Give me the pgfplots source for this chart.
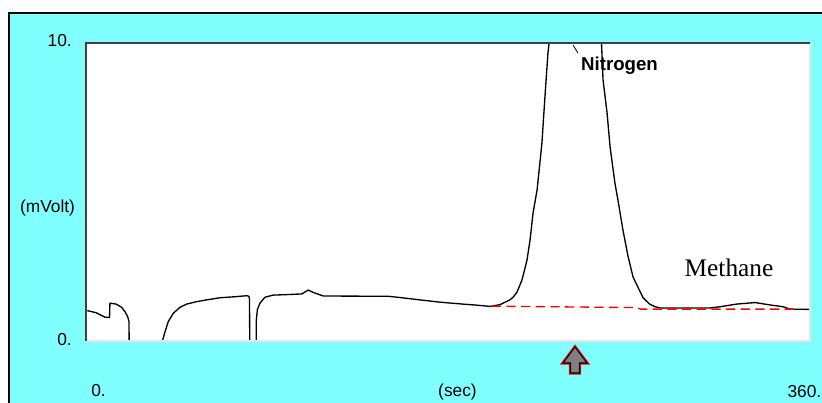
\documentclass[border=0pt]{standalone}
\usepackage{pgfplots}
\pgfplotsset{compat=1.18}
\usepackage{fontspec}
\setmainfont{Liberation Sans}
\newfontfamily\timesf{Liberation Serif}
\definecolor{panel}{RGB}{128,255,255}
\definecolor{arrowgray}{RGB}{128,128,128}
\begin{document}
\begin{tikzpicture}[x=0.75pt,y=-0.75pt]
\useasboundingbox (0,0) rectangle (822,403);
\fill[white] (0,0) rectangle (822,403);
\fill[panel] (9,13) rectangle (830,410);
\draw[line width=1.2pt,black] (9,420) -- (9,13) -- (830,13);
\begin{axis}[
  at={(64.5pt,-255.75pt)}, anchor=south west,
  scale only axis, width=543pt, height=223.5pt,
  xmin=0,xmax=360,ymin=0,ymax=10,
  xtick=\empty, ytick=\empty,
  axis line style={draw=none},
  axis background/.style={fill=white},
  clip mode=individual,
]
\addplot[black, line width=1pt, line join=round] table {
0.65 1.02
5 0.95
9.45 0.80
11.7 0.79
11.9 1.27
14.9 1.24
17.75 1.13
19.4 0.98
20.7 0.82
21.4 0.65
21.5 -1
37.8 -1
38.1 0.03
39.3 0.31
40.9 0.65
43.4 0.93
46.7 1.13
50.1 1.24
55.0 1.32
60.0 1.38
66.6 1.45
74.9 1.49
79.9 1.52
81.0 1.50
81.3 1.40
81.5 -1
84.5 -1
84.7 0.70
85.2 1.05
86.5 1.27
89.0 1.47
93.1 1.54
101 1.56
107.3 1.58
110.5 1.71
113.0 1.63
118.0 1.51
150.3 1.50
156 1.46
161 1.42
166 1.38
170 1.35
175 1.31
180 1.28
187 1.24
193 1.21
198 1.18
201 1.16
203.4 1.19
205.9 1.22
208 1.29
210.8 1.38
212.5 1.48
214.3 1.64
216.8 2.05
219.3 2.72
220.8 3.39
222.3 4.30
224.3 5.07
226.7 6.64
228.2 8.19
229.7 9.66
230.6 10.2
240 13
250 13
256.2 10.2
257.1 8.76
259.1 7.65
260.6 6.51
263.0 5.30
264.5 4.73
267.0 3.72
269.5 2.85
272.0 2.15
274.5 1.80
277.0 1.45
280.4 1.23
283 1.15
285.4 1.11
310.3 1.11
315.3 1.15
323.7 1.24
332.7 1.29
340.1 1.21
346.6 1.15
350.1 1.07
360 1.06
};
\addplot[red, line width=1pt, dash pattern=on 7pt off 4pt] table {
201.7 1.17
274.0 1.12
275.7 1.07
353.4 1.07
};
\draw[gray!20, line width=1.5pt] (rel axis cs:0,0) -- (rel axis cs:1,0) -- (rel axis cs:1,1);
\draw[black!75, line width=2pt] (rel axis cs:0,0) -- (rel axis cs:0,1) -- (rel axis cs:1,1);
\draw[black, line width=0.6pt] (axis cs:242.2,9.93) -- (axis cs:244.6,9.66);
\end{axis}
\begin{scope}[every node/.style={inner sep=0pt, font=\fontsize{13}{15}\selectfont}]
\node[anchor=base east] at (72,46.7) {10.};
\node[anchor=base east] at (72,345) {0.};
\node[anchor=base] at (47.5,212.3) {(mVolt)};
\node[anchor=base west] at (91,396.7) {0.};
\node[anchor=base] at (457.5,396.7) {(sec)};
\node[anchor=base east] at (821.5,397) {360.};
\node[anchor=base, font=\bfseries\fontsize{14}{16}\selectfont] at (619.5,71) {Nitrogen};
\node[anchor=base, font=\timesf\fontsize{19}{22}\selectfont] at (729,276.7) {Methane};
\end{scope}
\draw[red, line width=2.4pt, line join=miter] (575,347) -- (587,363) -- (579.5,363) -- (579.5,373) -- (570.5,373) -- (570.5,363) -- (563,363) -- cycle;
\filldraw[fill=arrowgray, draw=black, line width=0.8pt, line join=miter] (575,347) -- (587,363) -- (579.5,363) -- (579.5,373) -- (570.5,373) -- (570.5,363) -- (563,363) -- cycle;
\end{tikzpicture}
\end{document}
